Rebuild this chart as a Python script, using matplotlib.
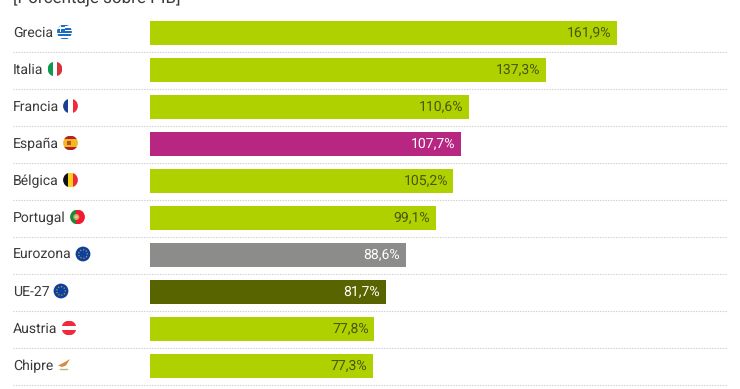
import matplotlib
matplotlib.use("Agg")
import matplotlib.pyplot as plt
from matplotlib.patches import Circle, Rectangle, Polygon

plt.rcParams['font.family'] = ['Roboto', 'DejaVu Sans']
plt.rcParams['text.hinting'] = 'no_hinting'
plt.rcParams['text.hinting_factor'] = 1

countries = ["Grecia", "Italia", "Francia", "España", "Bélgica", "Portugal", "Eurozona", "UE-27", "Austria", "Chipre"]
values = [161.9, 137.3, 110.6, 107.7, 105.2, 99.1, 88.6, 81.7, 77.8, 77.3]
labels = ["161,9%", "137,3%", "110,6%", "107,7%", "105,2%", "99,1%", "88,6%", "81,7%", "77,8%", "77,3%"]
LIME, PINK, GREY, OLIVE = "#b0d100", "#b72681", "#8c8c8a", "#586400"
bar_colors = [LIME, LIME, LIME, PINK, LIME, LIME, GREY, OLIVE, LIME, LIME]
text_colors = ["#4a5510" if c == LIME else "white" for c in bar_colors]
flag_x = [64.5, 55, 70.5, 70.5, 70.5, 77.5, 83, 61, 69, 64]

W, H = 740, 389
PX_PER_UNIT = 2.884
ROW = 37.0
fig = plt.figure(figsize=(W / 100, H / 100), dpi=100)
ax = fig.add_axes([0, 0, 1, 1])
ax.set_xlim(-150 / PX_PER_UNIT, (W - 150) / PX_PER_UNIT)
ax.set_ylim((H - 33) / ROW, -33 / ROW)
ax.axis("off")

ax.barh(range(len(values)), values, height=24 / ROW, color=bar_colors, linewidth=0, zorder=2)

ov = fig.add_axes([0, 0, 1, 1], facecolor="none")
ov.set_xlim(0, W)
ov.set_ylim(H, 0)
ov.axis("off")

FS = 14.2 * 0.72
for i, (name, v, lab, tc) in enumerate(zip(countries, values, labels, text_colors)):
    y = 33 + ROW * i
    ov.text(13, y, name, color="#3a3a3a", fontsize=FS, va="center", ha="left")
    ax.text(v - 5.5 / PX_PER_UNIT, i, lab, color=tc, fontsize=FS, va="center", ha="right", zorder=3)
    ov.plot([13, 727], [y + 18.5, y + 18.5], color="#cfcfcf", lw=0.8, ls=(0, (1.2, 1.2)), zorder=1)

ov.text(13, -1.5, "[Porcentaje sobre PIB]", color="#3a3a3a", fontsize=16.55 * 0.72, va="center", ha="left", clip_on=False)


def stripes(cx, cy, r, cols, vertical=False, weights=None):
    clip = Circle((cx, cy), r, transform=ov.transData)
    n = len(cols)
    weights = weights or [1] * n
    tot = sum(weights)
    pos = -r
    for c, w in zip(cols, weights):
        s = 2 * r * w / tot
        if vertical:
            p = Rectangle((cx + pos, cy - r), s, 2 * r, color=c, lw=0)
        else:
            p = Rectangle((cx - r, cy + pos), 2 * r, s, color=c, lw=0)
        ov.add_patch(p)
        p.set_clip_path(clip)
        pos += s


R = 7.4
ys = [33 - 1 + ROW * i for i in range(10)]
# Grecia
stripes(flag_x[0], ys[0], R, ["#1c6fc0", "white"] * 4 + ["#1c6fc0"])
clip = Circle((flag_x[0], ys[0]), R, transform=ov.transData)
for p in [Rectangle((flag_x[0] - R, ys[0] - R), R, R, color="#1c6fc0", lw=0),
          Rectangle((flag_x[0] - R, ys[0] - R + 2.8), R, 1.4, color="white", lw=0),
          Rectangle((flag_x[0] - R + 2.9, ys[0] - R), 1.4, R, color="white", lw=0)]:
    ov.add_patch(p)
    p.set_clip_path(clip)
# Italia
stripes(flag_x[1], ys[1], R, ["#0f9a50", "white", "#d8323c"], vertical=True)
# Francia
stripes(flag_x[2], ys[2], R, ["#1c3f94", "white", "#ee2a3c"], vertical=True)
# España
stripes(flag_x[3], ys[3], R, ["#b5202c", "#f5b81e", "#b5202c"], weights=[1, 2, 1])
ov.add_patch(Rectangle((flag_x[3] - 3.4, ys[3] - 2.2), 3.6, 4.2, color="#b0552a", lw=0))
# Bélgica
stripes(flag_x[4], ys[4], R, ["#111111", "#f7d116", "#ee2a3c"], vertical=True)
# Portugal
stripes(flag_x[5], ys[5], R, ["#1a8a3c", "#ee1c2e"], vertical=True, weights=[2, 3])
ov.add_patch(Circle((flag_x[5] - 1.2, ys[5]), 3.0, color="#e0a050", lw=0))
ov.add_patch(Circle((flag_x[5] - 1.2, ys[5]), 1.5, color="#c8c8d8", lw=0))
# Eurozona / UE-27
for k in (6, 7):
    ov.add_patch(Circle((flag_x[k], ys[k]), R, color="#0f3f9c", lw=0))
    ov.add_patch(Circle((flag_x[k], ys[k]), 4.3, fill=False, ec="#a8a040", lw=0.9, ls=(0, (1, 1.4))))
# Austria
stripes(flag_x[8], ys[8], R, ["#ee2a3c", "white", "#ee2a3c"])
# Chipre
ov.add_patch(Polygon([(flag_x[9] - 6, ys[9] + 0.5), (flag_x[9] + 1, ys[9] - 3), (flag_x[9] + 6, ys[9] - 6),
                      (flag_x[9] + 2, ys[9] + 0.5), (flag_x[9] - 2, ys[9] + 2)], color="#d98a3a", lw=0))
ov.plot([flag_x[9] - 4, flag_x[9] + 3], [ys[9] + 4, ys[9] + 4], color="#a8c090", lw=1)

fig.savefig("out.png", dpi=100)
